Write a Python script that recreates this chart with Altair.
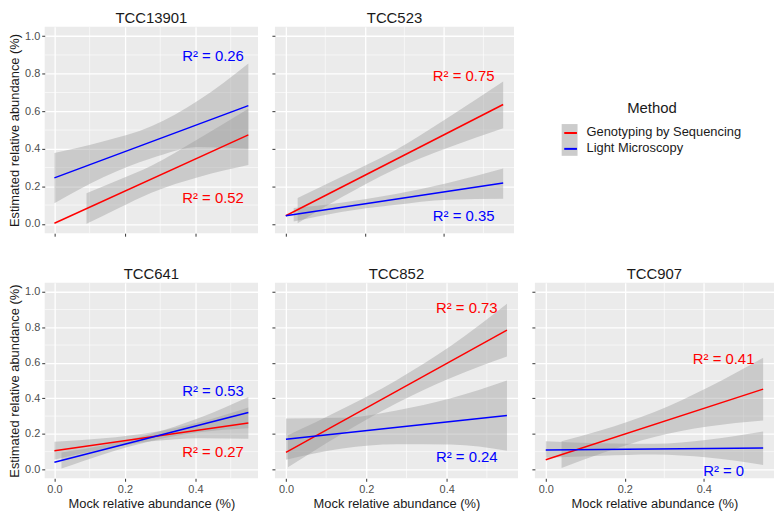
import altair as alt
import pandas as pd

panels = ["TCC13901", "TCC523", "TCC641", "TCC852", "TCC907"]
methods = ["Genotyping by Sequencing", "Light Microscopy"]

# fitted lines: y at x = 0 and x = 0.55
line_x = [0.0, 0.55]
gbs_line_y = [[0.003, 0.474], [0.043, 0.636], [0.105, 0.261], [0.096, 0.784], [0.054, 0.452]]
lm_line_y = [[0.245, 0.630], [0.043, 0.218], [0.040, 0.320], [0.170, 0.304], [0.109, 0.120]]

# confidence bands
gbs_band_x = [[0.091, 0.18, 0.275, 0.41, 0.55],
              [0.03, 0.14, 0.275, 0.41, 0.55],
              [0.0, 0.14, 0.275, 0.41, 0.55],
              [0.005, 0.14, 0.275, 0.41, 0.55],
              [0.04, 0.14, 0.275, 0.41, 0.55]]
gbs_band_lo = [[0.0, 0.082, 0.166, 0.25, 0.313],
               [0.003, 0.14, 0.29, 0.405, 0.509],
               [0.055, 0.115, 0.158, 0.176, 0.173],
               [0.012, 0.20, 0.372, 0.514, 0.635],
               [0.008, 0.09, 0.183, 0.241, 0.275]]
gbs_band_hi = [[0.163, 0.232, 0.31, 0.455, 0.613],
               [0.137, 0.25, 0.39, 0.565, 0.758],
               [0.155, 0.175, 0.208, 0.266, 0.349],
               [0.192, 0.34, 0.502, 0.694, 0.932],
               [0.158, 0.22, 0.323, 0.461, 0.629]]
lm_band_x = [[0.0, 0.14, 0.275, 0.41, 0.55],
             [0.02, 0.14, 0.275, 0.41, 0.55],
             [0.02, 0.14, 0.275, 0.41, 0.55],
             [0.0, 0.14, 0.275, 0.41, 0.55],
             [0.0, 0.14, 0.275, 0.41, 0.55]]
lm_band_lo = [[0.11, 0.25, 0.35, 0.41, 0.40],
              [0.012, 0.063, 0.10, 0.128, 0.133],
              [0.005, 0.086, 0.16, 0.209, 0.232],
              [0.054, 0.118, 0.142, 0.14, 0.105],
              [0.065, 0.077, 0.084, 0.067, 0.025]]
lm_band_hi = [[0.378, 0.44, 0.52, 0.66, 0.855],
              [0.084, 0.113, 0.158, 0.218, 0.295],
              [0.095, 0.136, 0.20, 0.289, 0.408],
              [0.286, 0.29, 0.332, 0.40, 0.50],
              [0.159, 0.147, 0.144, 0.167, 0.213]]

# R² annotations
gbs_r2 = ["0.52", "0.75", "0.27", "0.73", "0.41"]
lm_r2 = ["0.26", "0.35", "0.53", "0.24", "0"]
gbs_label_y = [0.14, 0.79, 0.096, 0.908, 0.62]
lm_label_y = [0.893, 0.043, 0.44, 0.072, -0.01]
label_x = 0.45

x_ticks = [0.0, 0.2, 0.4]
x_minor = [0.1, 0.3, 0.5]
y_ticks = [0.0, 0.2, 0.4, 0.6, 0.8, 1.0]
y_minor = [0.1, 0.3, 0.5, 0.7, 0.9]

RED, BLUE = "#FF0000", "#0000FF"
FONT = "Liberation Sans"
X_DOM = [-0.0275, 0.5775]
Y_DOM = [-0.05, 1.05]
LX, LY = 521, 75

fill_legend = alt.Legend(
    title="Method", orient="none", legendX=LX, legendY=LY,
    symbolType="square", symbolSize=256, symbolStrokeWidth=0, symbolOpacity=0.5,
    labelFontSize=13, labelFont=FONT, labelColor="#1A1A1A", labelOffset=9,
    titleFontSize=15, titleFont=FONT, titleFontWeight="normal", titleColor="#1A1A1A",
    titlePadding=8, titleAnchor="middle", rowPadding=0, zindex=1,
)
stroke_legend = alt.Legend(
    title=" ", orient="none", legendX=LX, legendY=LY,
    symbolType="M-0.8,0H0.8", symbolSize=256, symbolStrokeWidth=2, symbolOpacity=1,
    labelFontSize=13, labelFont=FONT, labelExpr="''", labelOffset=9,
    titleFontSize=15, titleFont=FONT, titleFontWeight="normal",
    titlePadding=8, titleAnchor="middle", rowPadding=0, zindex=2,
)


def panel(i, w, h, show_x, show_y):
    lines = pd.DataFrame({
        "x": line_x + line_x,
        "y": gbs_line_y[i] + lm_line_y[i],
        "method": [methods[0]] * 2 + [methods[1]] * 2,
    })
    band = pd.DataFrame({
        "x": gbs_band_x[i] + lm_band_x[i],
        "lo": gbs_band_lo[i] + lm_band_lo[i],
        "hi": gbs_band_hi[i] + lm_band_hi[i],
        "band": [methods[0]] * len(gbs_band_x[i]) + [methods[1]] * len(lm_band_x[i]),
    })
    labels = pd.DataFrame({
        "x": [label_x, label_x],
        "y": [gbs_label_y[i], lm_label_y[i]],
        "text": ["R² = " + gbs_r2[i], "R² = " + lm_r2[i]],
        "method": methods,
    })
    xs = alt.Scale(domain=X_DOM, nice=False, zero=False)
    ys = alt.Scale(domain=Y_DOM, nice=False, zero=False)
    xa = alt.Axis(values=x_ticks, format=".1f", labels=show_x, grid=True)
    ya = alt.Axis(values=y_ticks, format=".1f", labels=show_y, grid=True)
    xt = "Mock relative abundance (%)" if show_x else None
    yt = "Estimated relative abundance (%)" if show_y else None

    base_x = alt.X("x:Q", scale=xs, axis=xa, title=xt)
    ymin = alt.Chart(pd.DataFrame({"v": y_minor})).mark_rule(
        color="white", strokeWidth=0.6).encode(
        y=alt.Y("v:Q", scale=ys, axis=ya, title=yt))
    xmin = alt.Chart(pd.DataFrame({"v": x_minor})).mark_rule(
        color="white", strokeWidth=0.6).encode(
        x=alt.X("v:Q", scale=xs, axis=xa, title=xt))
    area = alt.Chart(band).mark_area(fillOpacity=0.4, interpolate="monotone").encode(
        x=base_x,
        y=alt.Y("lo:Q", scale=ys, axis=ya, title=yt),
        y2="hi:Q",
        fill=alt.Fill("band:N", scale=alt.Scale(range=["#999999", "#999999"]), legend=fill_legend),
    )
    line = alt.Chart(lines).mark_line(strokeWidth=1.5).encode(
        x=base_x,
        y=alt.Y("y:Q", scale=ys, axis=ya, title=yt),
        stroke=alt.Stroke("method:N", scale=alt.Scale(range=[RED, BLUE]), legend=stroke_legend),
    )
    text = alt.Chart(labels).mark_text(fontSize=15, font=FONT, align="center", baseline="middle").encode(
        x=base_x,
        y=alt.Y("y:Q", scale=ys, axis=ya, title=yt),
        text="text:N",
        color=alt.Color("method:N", scale=alt.Scale(range=[RED, BLUE]), legend=None),
    )
    return alt.layer(ymin, xmin, area, line, text).properties(
        width=w, height=h,
        title=alt.TitleParams(panels[i], fontSize=15, font=FONT, fontWeight="normal",
                              color="#1A1A1A", anchor="middle", offset=1),
    )


top = alt.hconcat(panel(0, 215, 208, False, True), panel(1, 241, 208, False, False), spacing=12)
bottom = alt.hconcat(panel(2, 215, 197, True, True), panel(3, 245, 197, True, False),
                     panel(4, 241, 197, True, False), spacing=12)

chart = alt.vconcat(top, bottom, spacing=29).resolve_scale(
    fill="shared", stroke="shared", color="shared"
).properties(padding=0).configure_view(
    fill="#EBEBEB", strokeWidth=0
).configure_axis(
    domain=False, tickColor="#333333", tickSize=3, tickWidth=1,
    labelColor="#4D4D4D", labelFont=FONT, labelFontSize=11, labelPadding=2,
    titleFont=FONT, titleFontSize=13, titleFontWeight="normal", titleColor="#1A1A1A",
    titlePadding=3, gridColor="white", gridWidth=1.3,
)

chart.save("out.html", embed_options={"renderer": "svg", "actions": False})
